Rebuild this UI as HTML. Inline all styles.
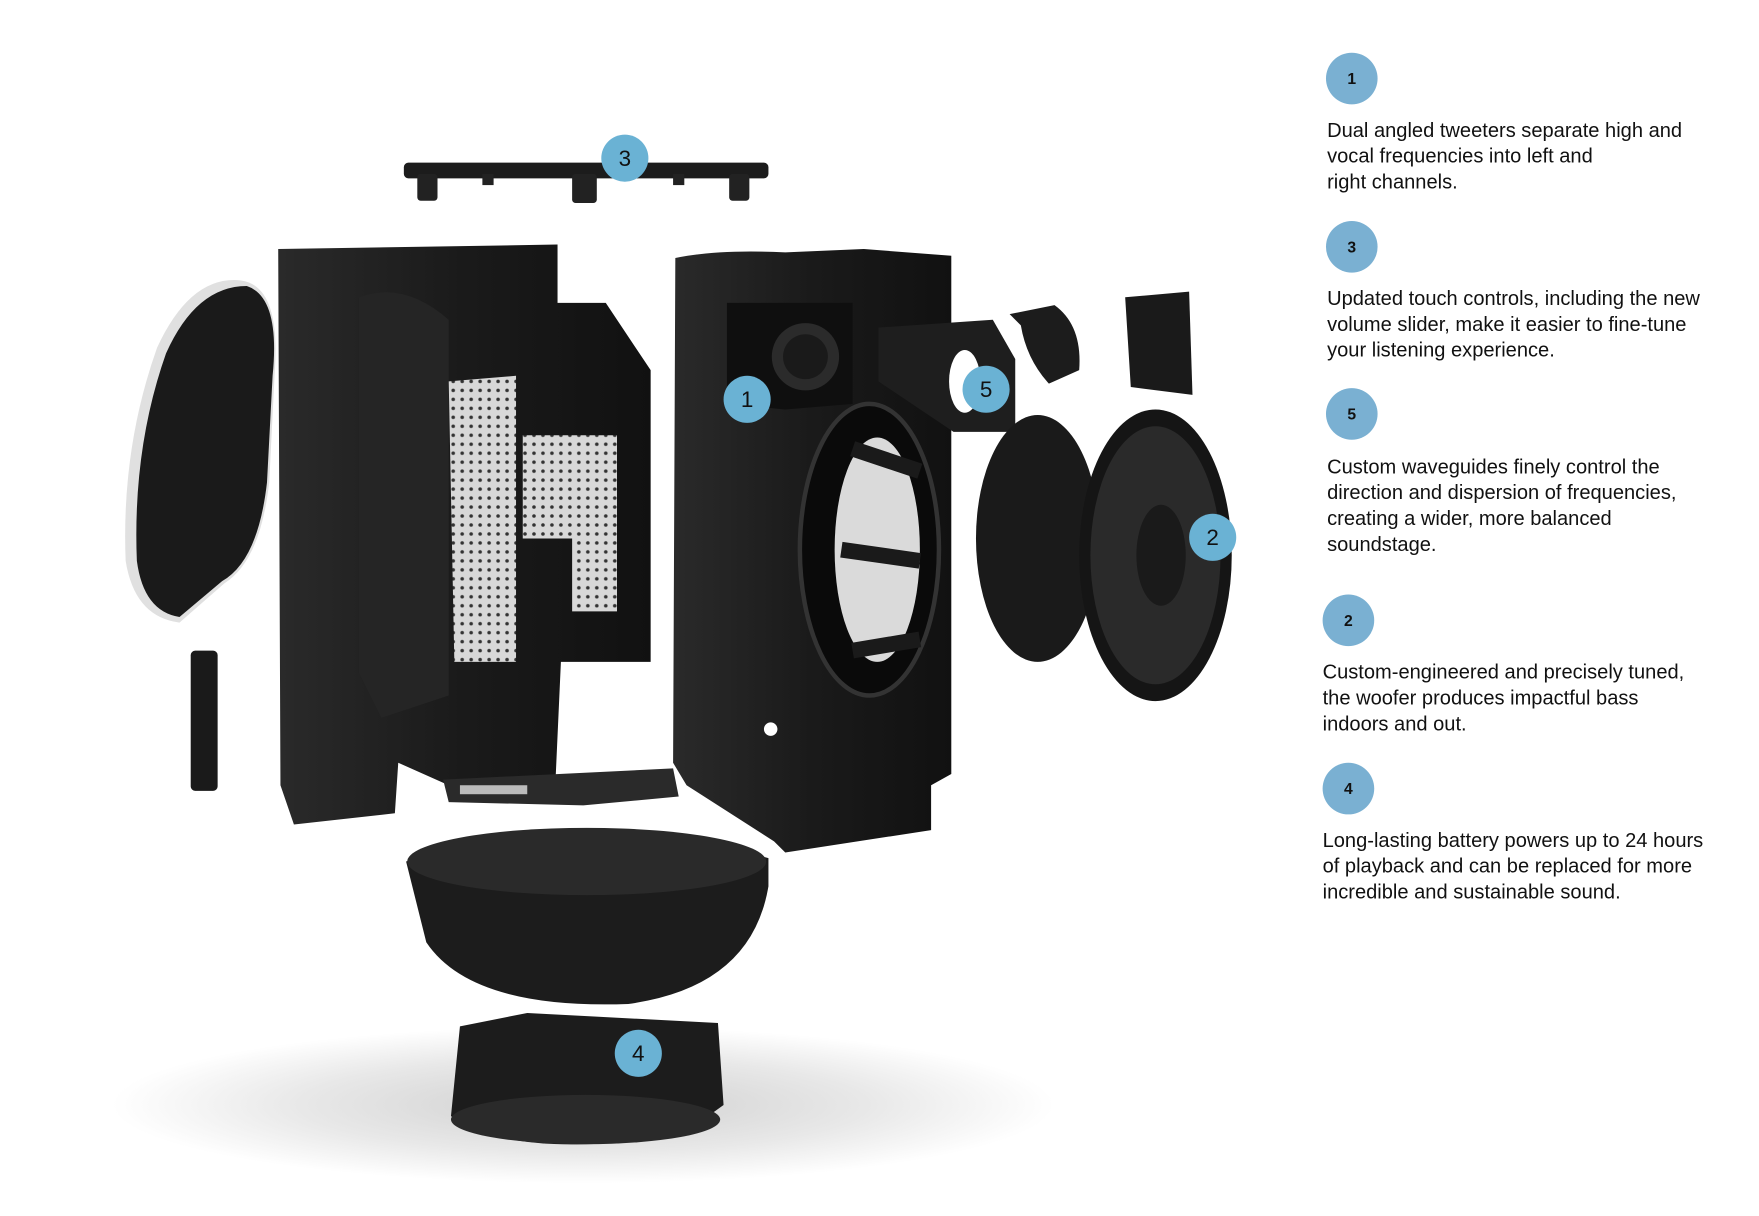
<!DOCTYPE html>
<html><head><meta charset="utf-8"><style>
html,body{margin:0;padding:0;background:#fff;}
svg{display:block;}
text{font-family:"Liberation Sans",sans-serif;}
</style></head><body>
<svg width="1759" height="1216" viewBox="0 0 1568 1084" preserveAspectRatio="none" xmlns="http://www.w3.org/2000/svg">
<defs>
<radialGradient id="sh" cx="50%" cy="50%" r="50%">
<stop offset="0" stop-color="#cfcfcf"/><stop offset="0.6" stop-color="#e8e8e8"/><stop offset="1" stop-color="#fff"/>
</radialGradient>
<linearGradient id="body" x1="0" x2="1"><stop offset="0" stop-color="#2a2a2a"/><stop offset="0.5" stop-color="#1a1a1a"/><stop offset="1" stop-color="#111"/></linearGradient>
<pattern id="dots" width="8" height="8" patternUnits="userSpaceOnUse"><rect width="8" height="8" fill="#d8d8d8"/><circle cx="4" cy="4" r="1.6" fill="#333"/></pattern>
</defs>
<ellipse cx="520" cy="985" rx="420" ry="70" fill="url(#sh)"/>
<rect x="360" y="145" width="325" height="14" rx="4" fill="#1c1c1c"/>
<rect x="372" y="155" width="18" height="24" rx="3" fill="#222"/>
<rect x="510" y="155" width="22" height="26" rx="3" fill="#222"/>
<rect x="650" y="155" width="18" height="24" rx="3" fill="#222"/>
<rect x="430" y="155" width="10" height="10" fill="#222"/><rect x="600" y="155" width="10" height="10" fill="#222"/>
<path d="M215 250 Q250 255 245 330 L240 430 Q232 500 200 520 L160 555 Q120 550 112 500 Q108 400 140 310 Q170 245 215 250Z" fill="#e0e0e0"/>
<path d="M220 255 Q250 265 243 335 L238 430 Q230 500 198 518 L160 550 Q128 545 122 500 Q118 400 148 315 Q175 255 220 255Z" fill="#1a1a1a"/>
<rect x="170" y="580" width="24" height="125" rx="4" fill="#1a1a1a"/>
<path d="M248 222 L497 218 L497 270 L540 270 L580 330 L580 590 L500 590 L495 700 L400 700 L355 680 L352 725 L262 735 L250 700 Z" fill="url(#body)"/>
<path d="M320 265 Q360 250 400 285 L400 620 L340 640 L320 600 Z" fill="#252525"/>
<path d="M400 340 L460 335 L460 590 L405 590Z" fill="url(#dots)"/>
<path d="M466 388 L550 388 L550 545 L510 545 L510 480 L466 480Z" fill="url(#dots)"/>
<path d="M395 695 L600 685 L605 710 L520 718 L400 715Z" fill="#2a2a2a"/>
<rect x="410" y="700" width="60" height="8" fill="#bbb"/>
<path d="M602 230 Q640 222 700 225 L770 222 L848 228 L848 690 L830 700 L830 740 L700 760 L690 750 L612 700 L600 680 Z" fill="url(#body)"/>
<path d="M648 270 L760 270 L760 360 L700 365 L648 360Z" fill="#0f0f0f"/>
<circle cx="718" cy="318" r="30" fill="#2b2b2b"/><circle cx="718" cy="318" r="20" fill="#1a1a1a"/>
<ellipse cx="775" cy="490" rx="62" ry="130" fill="#0a0a0a" stroke="#333" stroke-width="4"/>
<ellipse cx="782" cy="490" rx="38" ry="100" fill="#fff" opacity="0.85"/>
<path d="M760 400 L820 420 M750 490 L820 500 M760 580 L820 570" stroke="#1a1a1a" stroke-width="14"/>
<circle cx="687" cy="650" r="6" fill="#fff"/>
<path d="M783 292 L885 285 L905 320 L905 385 L850 385 L783 340Z" fill="#1e1e1e"/>
<ellipse cx="860" cy="340" rx="14" ry="28" fill="#fff"/>
<path d="M900 280 L940 272 Q965 290 962 330 L935 342 Q915 320 910 290Z" fill="#1c1c1c"/>
<path d="M1003 265 L1060 260 L1063 352 L1008 345Z" fill="#1a1a1a"/>
<ellipse cx="925" cy="480" rx="55" ry="110" fill="#1a1a1a"/>
<ellipse cx="1030" cy="495" rx="68" ry="130" fill="#151515"/>
<ellipse cx="1030" cy="495" rx="58" ry="115" fill="#2a2a2a"/>
<ellipse cx="1035" cy="495" rx="22" ry="45" fill="#1a1a1a"/>
<path d="M362 768 Q520 715 685 765 L685 790 Q670 880 560 895 Q420 900 380 840 Z" fill="#1c1c1c"/>
<ellipse cx="523" cy="768" rx="160" ry="30" fill="#2a2a2a"/>
<path d="M410 915 L470 903 L640 912 L645 985 Q600 1020 520 1020 Q440 1022 402 995 Z" fill="#1c1c1c"/>
<ellipse cx="522" cy="998" rx="120" ry="22" fill="#2a2a2a"/>
<g font-size="20" text-anchor="middle" fill="#111">
<circle cx="557" cy="141" r="21" fill="#6ab2d4"/><text x="557" y="148">3</text>
<circle cx="666" cy="356" r="21" fill="#6ab2d4"/><text x="666" y="363">1</text>
<circle cx="879" cy="347" r="21" fill="#6ab2d4"/><text x="879" y="354">5</text>
<circle cx="1081" cy="479" r="21" fill="#6ab2d4"/><text x="1081" y="486">2</text>
<circle cx="569" cy="939" r="21" fill="#6ab2d4"/><text x="569" y="946">4</text>
</g>
<g font-size="14" font-weight="bold" text-anchor="middle" fill="#111">
<circle cx="1205" cy="70" r="23" fill="#7ab0d2"/><text x="1205" y="75">1</text>
<circle cx="1205" cy="220" r="23" fill="#7ab0d2"/><text x="1205" y="225">3</text>
<circle cx="1205" cy="369" r="23" fill="#7ab0d2"/><text x="1205" y="374">5</text>
<circle cx="1202" cy="553" r="23" fill="#7ab0d2"/><text x="1202" y="558">2</text>
<circle cx="1202" cy="703" r="23" fill="#7ab0d2"/><text x="1202" y="708">4</text>
</g>
<g font-size="17.9" fill="#111">
<text x="1183" y="122">Dual angled tweeters separate high and</text>
<text x="1183" y="145">vocal frequencies into left and</text>
<text x="1183" y="168">right channels.</text>
<text x="1183" y="272">Updated touch controls, including the new</text>
<text x="1183" y="295">volume slider, make it easier to fine-tune</text>
<text x="1183" y="318">your listening experience.</text>
<text x="1183" y="422">Custom waveguides finely control the</text>
<text x="1183" y="445">direction and dispersion of frequencies,</text>
<text x="1183" y="468">creating a wider, more balanced</text>
<text x="1183" y="491">soundstage.</text>
<text x="1179" y="605">Custom-engineered and precisely tuned,</text>
<text x="1179" y="628">the woofer produces impactful bass</text>
<text x="1179" y="651">indoors and out.</text>
<text x="1179" y="755">Long-lasting battery powers up to 24 hours</text>
<text x="1179" y="778">of playback and can be replaced for more</text>
<text x="1179" y="801">incredible and sustainable sound.</text>
</g>
</svg>
</body></html>
